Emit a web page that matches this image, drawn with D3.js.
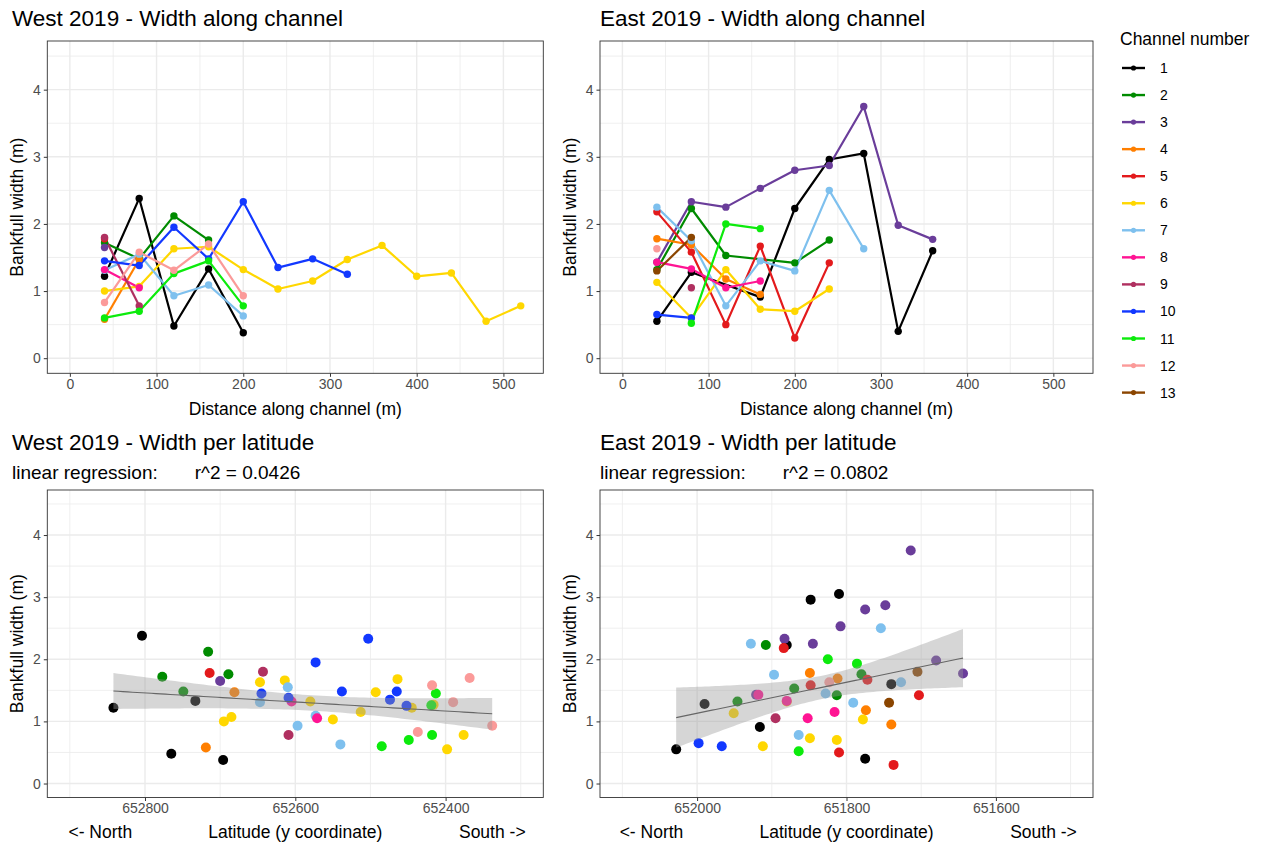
<!DOCTYPE html>
<html>
<head>
<meta charset="utf-8">
<script src="https://cdn.jsdelivr.net/npm/d3@7"></script>
<style>
  body { margin: 0; background: #fff; }
  text { font-family: "Liberation Sans", Arial, Helvetica, sans-serif; }
</style>
</head>
<body>
<div id="chart"></div>
<script>
// Channel ids and their colours
const channels = [1, 2, 3, 4, 5, 6, 7, 8, 9, 10, 11, 12, 13];
const channelColors = ['#000000', '#008B00', '#6A3D9A', '#FF7F00', '#E31A1C', '#FFD700', '#7EC0EE',
  '#FF1493', '#B03060', '#1238FF', '#0CEB0C', '#FB9A99', '#8B4500'];

// West 2019 measurements (one entry per cross section)
const westChannel = [1,1,1,1,1, 2,2,2,2, 3, 4,4, 5,
  6,6,6,6,6,6,6,6,6,6,6,6,6, 7,7,7,7,7, 8,8, 9,9, 10,10,10,10,10,10,10,10, 11,11,11,11,11, 12,12,12,12,12];
const westDistance = [40,80,120,160,200, 40,80,120,160, 40, 40,80, 40,
  40,80,120,160,200,240,280,320,360,400,440,480,520, 40,80,120,160,200, 40,80, 40,80,
  40,80,120,160,200,240,280,320, 40,80,120,160,200, 40,80,120,160,200];
const westWidth = [1.22,2.38,0.48,1.33,0.38, 1.72,1.48,2.12,1.76, 1.65, 0.58,1.47, 1.78,
  1.00,1.07,1.63,1.66,1.32,1.03,1.15,1.47,1.68,1.22,1.27,0.55,0.78, 1.31,1.55,0.93,1.09,0.63, 1.32,1.05, 1.80,0.78,
  1.45,1.38,1.95,1.48,2.33,1.35,1.48,1.25, 0.60,0.70,1.26,1.45,0.78, 0.83,1.58,1.31,1.70,0.93];
const westLatitude = [652842,652804,652765,652733,652696, 652777,652749,652716,652689, 652700, 652719,652681, 652714,
  652695,652685,652647,652614,652580,652550,652513,652493,652464,652445,652416,652398,652376,
  652647,652610,652597,652573,652540, 652605,652571, 652643,652609,
  652645,652609,652573,652538,652503,652474,652465,652452, 652485,652449,652419,652413,652418,
  652437,652418,652390,652368,652338];

// East 2019 measurements
const eastChannel = [1,1,1,1,1,1,1,1, 2,2,2,2,2, 3,3,3,3,3,3,3,3,3, 4,4,4,4, 5,5,5,5,5,5,
  6,6,6,6,6,6, 7,7,7,7,7,7,7, 8,8,8,8, 9, 10,10, 11,11,11, 12, 13,13];
const eastDistance = [40,80,160,200,240,280,320,360, 40,80,120,200,240, 40,80,120,160,200,240,280,320,360,
  40,80,120,160, 40,80,120,160,200,240, 40,80,120,160,200,240, 40,80,120,160,200,240,280,
  40,80,120,160, 80, 40,80, 80,120,160, 40, 40,80];
const eastWidth = [0.55,1.28,0.91,2.23,2.96,3.05,0.40,1.60, 1.32,2.23,1.53,1.42,1.76,
  1.43,2.33,2.25,2.53,2.80,2.87,3.75,1.98,1.77, 1.78,1.69,1.18,0.95, 2.18,1.58,0.50,1.67,0.30,1.42,
  1.13,0.60,1.32,0.73,0.70,1.03, 2.25,1.75,0.78,1.45,1.30,2.50,1.63, 1.43,1.33,1.05,1.15, 1.05, 0.65,0.60,
  0.52,2.00,1.93, 1.63, 1.30,1.80];
const eastLatitude = [652028,651990,651916,651880,651848,651810,651775,651740, 651946,651908,651870,651813,651780,
  651921,651883,651845,651808,651775,651748,651714,651680,651644, 651849,651812,651774,651740,
  651884,651848,651810,651772,651737,651703, 651951,651912,651880,651849,651813,651778,
  651928,651897,651864,651828,651791,651754,651727, 651918,651880,651852,651816, 651895, 651998,651967,
  651864,651825,651786, 651823, 651743,651705];

// Tick values and labels
const distanceTicks = [0, 100, 200, 300, 400, 500];
const widthTicks = [0, 1, 2, 3, 4];
const westLatTicks = [652800, 652600, 652400];
const eastLatTicks = [652000, 651800, 651600];
const rSquared = ['0.0426', '0.0802'];

function rows(ch, dist, w, lat) {
  return ch.map((c, i) => ({channel: c, distance: dist[i], width: w[i], lat: lat[i]}));
}
const westData = rows(westChannel, westDistance, westWidth, westLatitude);
const eastData = rows(eastChannel, eastDistance, eastWidth, eastLatitude);

const color = d3.scaleOrdinal().domain(channels).range(channelColors);

const svg = d3.select('#chart').append('svg')
  .attr('width', 1264)
  .attr('height', 843);

// panel boxes
const colX = [[47.3, 543.3], [600, 1093]];
const topY = [373.3, 41];
const botY = [797.5, 490];

// shared scales
const yTop = d3.scaleLinear().domain([-0.225, 4.725]).range(topY);
const yBot = d3.scaleLinear().domain([-0.225, 4.725]).range(botY);

function gridAndFrame(g, x, y, xMajor, xMinor) {
  const [x0, x1] = x.range();
  const [yb, yt] = y.range();
  const yMinor = [0.5, 1.5, 2.5, 3.5, 4.5];
  g.selectAll('.gxm').data(xMinor).enter().append('line')
    .attr('x1', d => x(d)).attr('x2', d => x(d)).attr('y1', yt).attr('y2', yb)
    .attr('stroke', '#ebebeb').attr('stroke-width', 0.8);
  g.selectAll('.gym').data(yMinor).enter().append('line')
    .attr('x1', x0).attr('x2', x1).attr('y1', d => y(d)).attr('y2', d => y(d))
    .attr('stroke', '#ebebeb').attr('stroke-width', 0.8);
  g.selectAll('.gx').data(xMajor).enter().append('line')
    .attr('x1', d => x(d)).attr('x2', d => x(d)).attr('y1', yt).attr('y2', yb)
    .attr('stroke', '#ebebeb').attr('stroke-width', 1.4);
  g.selectAll('.gy').data(widthTicks).enter().append('line')
    .attr('x1', x0).attr('x2', x1).attr('y1', d => y(d)).attr('y2', d => y(d))
    .attr('stroke', '#ebebeb').attr('stroke-width', 1.4);
}

function axes(g, x, y, xTicks, fmt) {
  const [x0, x1] = x.range();
  const [yb, yt] = y.range();
  let ax = g.append('g')
    .attr('transform', 'translate(0,' + yb + ')')
    .call(d3.axisBottom(x).tickValues(xTicks).tickFormat(fmt).tickSize(3.5).tickPadding(2.5));
  let ay = g.append('g')
    .attr('transform', 'translate(' + x0 + ',0)')
    .call(d3.axisLeft(y).tickValues(widthTicks).tickFormat(d3.format('d')).tickSize(3.5).tickPadding(3));
  [ax, ay].forEach(a => {
    a.select('.domain').remove();
    a.selectAll('line').attr('stroke', '#333');
    a.selectAll('text').attr('fill', '#4d4d4d').style('font-size', '14px')
      .style('font-family', '"Liberation Sans", Arial, sans-serif');
  });
  g.append('rect')
    .attr('x', x0).attr('y', yt).attr('width', x1 - x0).attr('height', yb - yt)
    .attr('fill', 'none').attr('stroke', '#333').attr('stroke-width', 0.9);
  // y axis title
  g.append('text')
    .attr('transform', 'translate(' + (x0 - 24) + ',' + ((yb + yt) / 2) + ') rotate(-90)')
    .attr('text-anchor', 'middle')
    .style('font-size', '17.5px')
    .text('Bankfull width (m)');
}

function title(txt, x, y, size) {
  svg.append('text').attr('x', x).attr('y', y)
    .style('font-size', size + 'px').style('white-space', 'pre')
    .text(txt);
}

// Top row - width along channel
function alongChannel(data, col, name) {
  let g = svg.append('g').attr('class', 'along ' + name);
  let x = d3.scaleLinear().domain([-26, 546]).range(colX[col]);
  gridAndFrame(g, x, yTop, distanceTicks, [50, 150, 250, 350, 450]);

  let line = d3.line()
    .x(d => x(d.distance))
    .y(d => yTop(d.width));
  let groups = d3.groups(data, d => d.channel).sort((a, b) => a[0] - b[0]);
  g.selectAll('.ln').data(groups).enter().append('path')
    .attr('d', d => line(d[1]))
    .attr('fill', 'none')
    .attr('stroke', d => color(d[0]))
    .attr('stroke-width', 2.2)
    .attr('stroke-linejoin', 'round');
  g.selectAll('.pt').data(data).enter().append('circle')
    .attr('cx', d => x(d.distance))
    .attr('cy', d => yTop(d.width))
    .attr('r', 3.7)
    .attr('fill', d => color(d.channel));

  axes(g, x, yTop, distanceTicks, d3.format('d'));
  g.append('text')
    .attr('x', (colX[col][0] + colX[col][1]) / 2).attr('y', 415)
    .attr('text-anchor', 'middle').style('font-size', '17.5px')
    .text('Distance along channel (m)');
}

// Bottom row - width per latitude with lm fit
function perLatitude(data, col, domain, ticks) {
  let g = svg.append('g').attr('class', 'perlat');
  let x = d3.scaleLinear().domain(domain).range(colX[col]);
  let minor = d3.range(Math.ceil(domain[1] / 100) * 100, domain[0], 100).filter(v => ticks.indexOf(v) < 0);
  gridAndFrame(g, x, yBot, ticks, minor);

  g.selectAll('.pt').data(data).enter().append('circle')
    .attr('cx', d => x(d.lat))
    .attr('cy', d => yBot(d.width))
    .attr('r', 5)
    .attr('fill', d => color(d.channel));

  // linear regression with 95% confidence band
  let n = data.length;
  let mx = d3.mean(data, d => d.lat), my = d3.mean(data, d => d.width);
  let sxx = d3.sum(data, d => (d.lat - mx) ** 2);
  let sxy = d3.sum(data, d => (d.lat - mx) * (d.width - my));
  let b = sxy / sxx, a = my - b * mx;
  let s = Math.sqrt(d3.sum(data, d => (d.width - a - b * d.lat) ** 2) / (n - 2));
  let tq = 1.96 + 2.4 / (n - 2);
  let ext = d3.extent(data, d => d.lat);
  let fit = d3.range(0, 81).map(i => {
    let xv = ext[0] + (ext[1] - ext[0]) * i / 80;
    let se = s * Math.sqrt(1 / n + (xv - mx) ** 2 / sxx);
    let yv = a + b * xv;
    return {lat: xv, y: yv, lo: yv - tq * se, hi: yv + tq * se};
  });
  g.append('path').datum(fit)
    .attr('d', d3.area().x(d => x(d.lat)).y0(d => yBot(d.lo)).y1(d => yBot(d.hi)))
    .attr('fill', '#999').attr('fill-opacity', 0.4);
  g.append('path').datum(fit)
    .attr('d', d3.line().x(d => x(d.lat)).y(d => yBot(d.y)))
    .attr('fill', 'none').attr('stroke', '#666').attr('stroke-width', 1.1);

  axes(g, x, yBot, ticks, d3.format('d'));
  let cx = (colX[col][0] + colX[col][1]) / 2;
  [['<- North', -195], ['Latitude (y coordinate)', 0], ['South ->', 197]].forEach(t => {
    g.append('text')
      .attr('x', cx + t[1]).attr('y', 838)
      .attr('text-anchor', 'middle').style('font-size', '17.5px')
      .text(t[0]);
  });
}

alongChannel(westData, 0, 'west');
alongChannel(eastData, 1, 'east');
perLatitude(westData, 0, [652930, 652270], westLatTicks);
perLatitude(eastData, 1, [652130, 651470], eastLatTicks);

// Titles
title('West 2019 - Width along channel', 12, 26, 22.5);
title('East 2019 - Width along channel', 600, 26, 22.5);
title('West 2019 - Width per latitude', 12, 450, 22.5);
title('East 2019 - Width per latitude', 600, 450, 22.5);
title('linear regression:       r^2 = ' + rSquared[0], 12, 479, 19);
title('linear regression:       r^2 = ' + rSquared[1], 600, 479, 19);

// Legend
let legend = svg.append('g').attr('class', 'legend');
legend.append('text').attr('x', 1120).attr('y', 45).style('font-size', '17.5px').text('Channel number');
let item = legend.selectAll('.item').data(channels).enter().append('g')
  .attr('transform', (d, i) => 'translate(1122,' + (68 + i * 27.05) + ')');
item.append('line')
  .attr('x1', 0).attr('x2', 23).attr('y1', 0).attr('y2', 0)
  .attr('stroke', d => color(d)).attr('stroke-width', 2.4);
item.append('circle').attr('cx', 11.5).attr('cy', 0).attr('r', 2.6).attr('fill', d => color(d));
item.append('text').attr('x', 38).attr('y', 5).style('font-size', '14px').text(d => d);
</script>
</body>
</html>
